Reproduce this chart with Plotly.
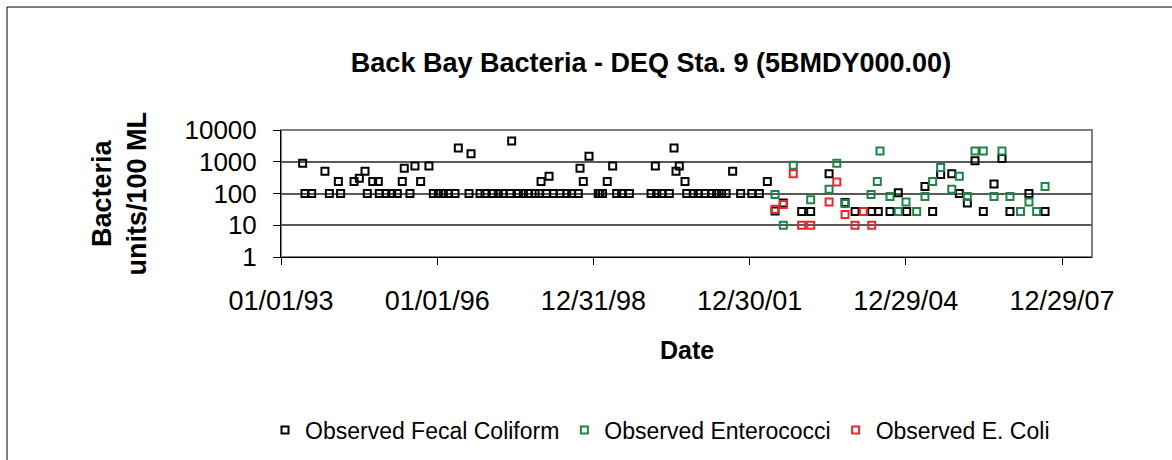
import plotly.graph_objects as go

fc_dates = ["1993-06-02","1993-06-18","1993-08-04","1993-11-05","1993-12-06","1994-02-07","1994-02-23",
"1994-05-28","1994-07-04","1994-08-13","1994-08-29","1994-10-06","1994-11-14","1994-11-21","1995-01-07",
"1995-02-16","1995-03-27","1995-05-01","1995-05-15","1995-06-24","1995-07-29","1995-09-07","1995-11-04",
"1995-12-05","1996-01-09","1996-02-13","1996-03-19","1996-05-05","1996-05-28","1996-08-11","1996-08-25",
"1996-10-27","1996-12-01","1997-01-28","1997-03-04","1997-04-08","1997-05-25","1997-06-06","1997-07-23",
"1997-08-27","1997-10-01","1997-11-17","1997-12-15","1997-12-29","1998-02-07","1998-02-23","1998-03-25",
"1998-05-11","1998-06-27","1998-08-01","1998-09-16","1998-09-28","1998-10-21","1998-11-30","1999-02-03",
"1999-02-15","1999-03-05","1999-04-07","1999-05-15","1999-06-12","1999-07-17","1999-09-09","2000-02-08",
"2000-03-09","2000-03-19","2000-04-23","2000-06-15","2000-07-18","2000-08-01","2000-08-24","2000-10-03",
"2000-10-15","2000-11-30","2001-01-04","2001-02-20","2001-04-08","2001-05-13","2001-06-17","2001-07-18",
"2001-09-02","2001-10-28","2002-01-14","2002-03-08","2002-05-03","2002-06-26","2002-08-23","2002-12-30",
"2003-03-03","2003-07-10","2003-10-30","2004-01-08","2004-05-04","2004-06-19","2004-09-09","2004-11-06",
"2005-01-04","2005-05-12","2005-07-05","2005-08-30","2005-11-16","2006-01-08","2006-03-05","2006-04-28",
"2006-06-25","2006-09-08","2006-11-03","2006-12-29","2007-05-11","2007-09-01"]
fc_values = [900,100,100,500,100,240,100,
240,300,500,100,240,240,100,100,
100,100,240,620,100,740,240,740,
100,100,100,100,100,2700,100,1800,
100,100,100,100,100,100,4500,100,
100,100,100,100,240,100,350,100,
100,100,100,100,620,240,1500,100,
100,100,240,740,100,100,100,100,
740,100,100,100,2700,500,740,240,
100,100,100,100,100,100,100,100,
500,100,100,100,240,28,50,27,
27,420,52,27,27,27,27,105,
27,165,27,400,420,100,50,1070,
27,200,1260,27,100,27]

ent_dates = ["2002-06-26","2002-08-23","2002-11-01","2003-03-03","2003-07-10","2003-09-02","2003-10-30",
"2004-03-06","2004-04-29","2004-06-12","2004-07-01","2004-09-09","2004-11-06","2004-12-30","2005-03-15",
"2005-05-12","2005-07-05","2005-08-30","2005-11-16","2006-01-08","2006-03-05","2006-04-28","2006-06-25",
"2006-09-08","2006-11-03","2006-12-29","2007-03-13","2007-05-11","2007-07-04","2007-09-01"]
ent_values = [93,10,780,63,135,900,48,
27,93,240,2200,80,27,54,27,
80,240,660,135,350,80,2200,2200,
80,2200,80,27,54,27,165]

ec_dates = ["2002-06-26","2002-08-23","2002-11-01","2002-12-30","2003-03-03","2003-07-10","2003-09-02",
"2003-10-30","2004-01-08","2004-03-06","2004-05-04"]
ec_values = [32,45,420,10,10,54,230,22,10,27,10]

x_tick_vals = ["1993-01-01","1996-01-01","1998-12-31","2001-12-30","2004-12-29","2007-12-29"]
x_tick_text = ["01/01/93","01/01/96","12/31/98","12/30/01","12/29/04","12/29/07"]
y_tick_vals = [1, 10, 100, 1000, 10000]
y_tick_text = ["1", "10", "100", "1000", "10000"]

FONT = "Arial, Liberation Sans, sans-serif"
BLACK = "#000000"
GREEN = "#1e8449"
RED = "#e8282b"

fig = go.Figure()
for name, xs, ys, col in [("Observed Fecal Coliform", fc_dates, fc_values, BLACK),
                          ("Observed Enterococci", ent_dates, ent_values, GREEN),
                          ("Observed E. Coli", ec_dates, ec_values, RED)]:
    fig.add_trace(go.Scatter(x=xs, y=ys, mode="markers", name=name,
                             marker=dict(symbol="square-open", size=7, color=col,
                                         line=dict(width=2, color=col))))

L, R, T, B = 281, 1092, 130, 257
W, H = 1172, 460

def px_x(p):
    return (p - L) / (R - L)

def px_y(p):
    return (B - p) / (B - T)

fig.update_layout(
    width=W, height=H,
    margin=dict(l=L, r=W - R, t=T, b=H - B),
    paper_bgcolor="white", plot_bgcolor="white",
    font=dict(family=FONT, color="black"),
    title=dict(text="<b>Back Bay Bacteria - DEQ Sta. 9 (5BMDY000.00)</b>",
               x=651 / W, xanchor="center", y=1 - 63 / H, yanchor="middle",
               font=dict(size=27, family=FONT, color="black")),
    showlegend=True,
    legend=dict(orientation="h", xref="container", yref="container",
                x=660 / W, xanchor="center", y=1 - 430 / H, yanchor="middle",
                font=dict(size=23, family=FONT),
                bgcolor="rgba(0,0,0,0)", itemwidth=30, tracegroupgap=0),
    xaxis=dict(type="date", range=["1993-01-01", "2008-07-26"],
               tickmode="array", tickvals=x_tick_vals, ticktext=x_tick_text,
               ticks="outside", ticklen=7, tickcolor=BLACK, tickwidth=1,
               showline=True, linecolor=BLACK, linewidth=1, showgrid=False,
               zeroline=False, tickfont=dict(size=27, family=FONT),
               ticklabelstandoff=13),
    yaxis=dict(type="log", range=[0, 4], tickmode="array",
               tickvals=y_tick_vals, ticktext=y_tick_text,
               ticks="outside", ticklen=7, tickcolor=BLACK, tickwidth=1,
               showline=True, linecolor=BLACK, linewidth=1,
               showgrid=True, gridcolor="#5a5a5a", gridwidth=1.5,
               zeroline=False, tickfont=dict(size=26, family=FONT),
               ticklabelstandoff=11),
    shapes=[
        dict(type="rect", xref="paper", yref="paper", x0=0, x1=1, y0=0, y1=1,
             line=dict(color="#808080", width=2), layer="below"),
        dict(type="rect", xref="paper", yref="paper",
             x0=px_x(7), x1=px_x(1400), y0=px_y(7), y1=px_y(700),
             line=dict(color=BLACK, width=1), layer="below"),
    ],
    annotations=[
        dict(text="<b>Date</b>", xref="paper", yref="paper", x=0.5, y=px_y(350),
             xanchor="center", yanchor="middle", showarrow=False,
             font=dict(size=25, family=FONT)),
        dict(text="<b>Bacteria<br>units/100 ML</b>", xref="paper", yref="paper",
             x=px_x(119), y=0.5, xanchor="center", yanchor="middle",
             textangle=-90, showarrow=False, font=dict(size=27, family=FONT)),
    ],
)

fig.write_html("out.html", config={"displayModeBar": False},
               post_script="document.body.style.margin='0';document.body.style.overflow='hidden';")
